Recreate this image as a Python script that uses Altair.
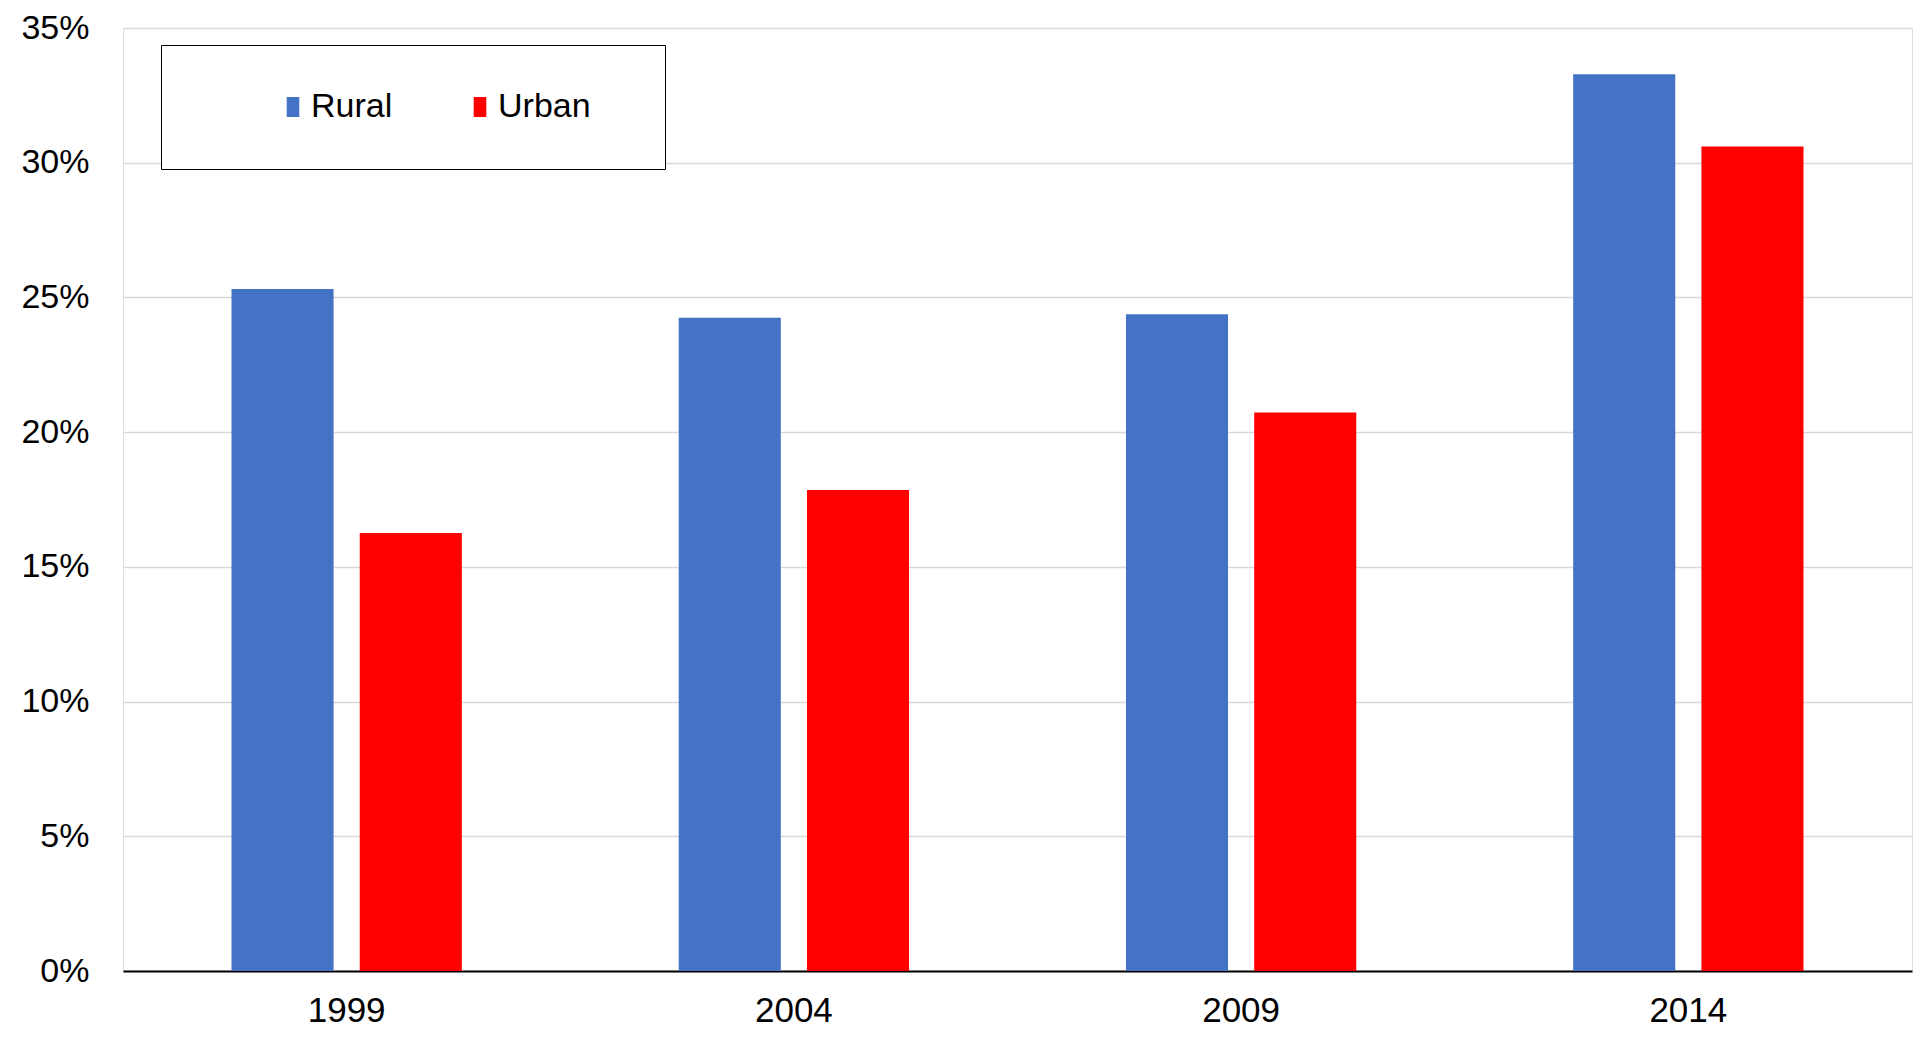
import altair as alt
import pandas as pd

years = ["1999", "2004", "2009", "2014"]
rural = [0.2531, 0.2425, 0.2438, 0.3328]
urban = [0.1626, 0.1785, 0.2073, 0.3060]
series = ["Rural", "Urban"]
colors = ["#4472C4", "#FF0000"]
y_ticks = [0, 0.05, 0.10, 0.15, 0.20, 0.25, 0.30, 0.35]

rows = []
for i, yr in enumerate(years):
    rows.append({"year": yr, "series": "Rural", "value": rural[i]})
    rows.append({"year": yr, "series": "Urban", "value": urban[i]})
df = pd.DataFrame(rows)

FONT = "Liberation Sans"

chart = alt.Chart(df).mark_bar().encode(
    x=alt.X("year:N", sort=years, title=None,
            scale=alt.Scale(paddingInner=0.485, paddingOuter=0.2426),
            axis=alt.Axis(labelAngle=0, domain=True, domainColor="black", domainWidth=2,
                          ticks=False, labelPadding=22, grid=False,
                          labelFont=FONT, labelFontSize=35, labelColor="black")),
    xOffset=alt.XOffset("series:N", sort=series,
                        scale=alt.Scale(paddingInner=0.204, paddingOuter=0)),
    y=alt.Y("value:Q", title=None,
            scale=alt.Scale(domain=[0, 0.35], nice=False),
            axis=alt.Axis(values=y_ticks, format=".0%", domain=False, ticks=False,
                          labelPadding=34, gridColor="#d9d9d9", gridWidth=1.5,
                          labelFont=FONT, labelFontSize=34, labelColor="black")),
    color=alt.Color("series:N", sort=series,
                    scale=alt.Scale(domain=series, range=colors),
                    legend=alt.Legend(
                        orient="none", legendX=38, legendY=17, direction="horizontal",
                        title=" ", titleOrient="right", titleFontSize=1, titlePadding=29,
                        padding=45, fillColor="white", strokeColor="black",
                        symbolType="M-0.63,-1H0.63V1H-0.63Z", symbolSize=400,
                        symbolOffset=70, symbolStrokeWidth=0,
                        labelFont=FONT,
                        labelFontSize=34, labelOffset=1, columnPadding=0,
                        labelColor="black")),
).properties(
    width=1789, height=943,
    padding={"left": 115, "top": 20, "right": 1, "bottom": 60},
    autosize="none",
).configure_view(
    stroke="black", strokeWidth=1.5
).configure_legend(
    strokeWidth=1.5
).configure(background="white")

chart.save("out.html", embed_options={"renderer": "svg", "actions": False})
